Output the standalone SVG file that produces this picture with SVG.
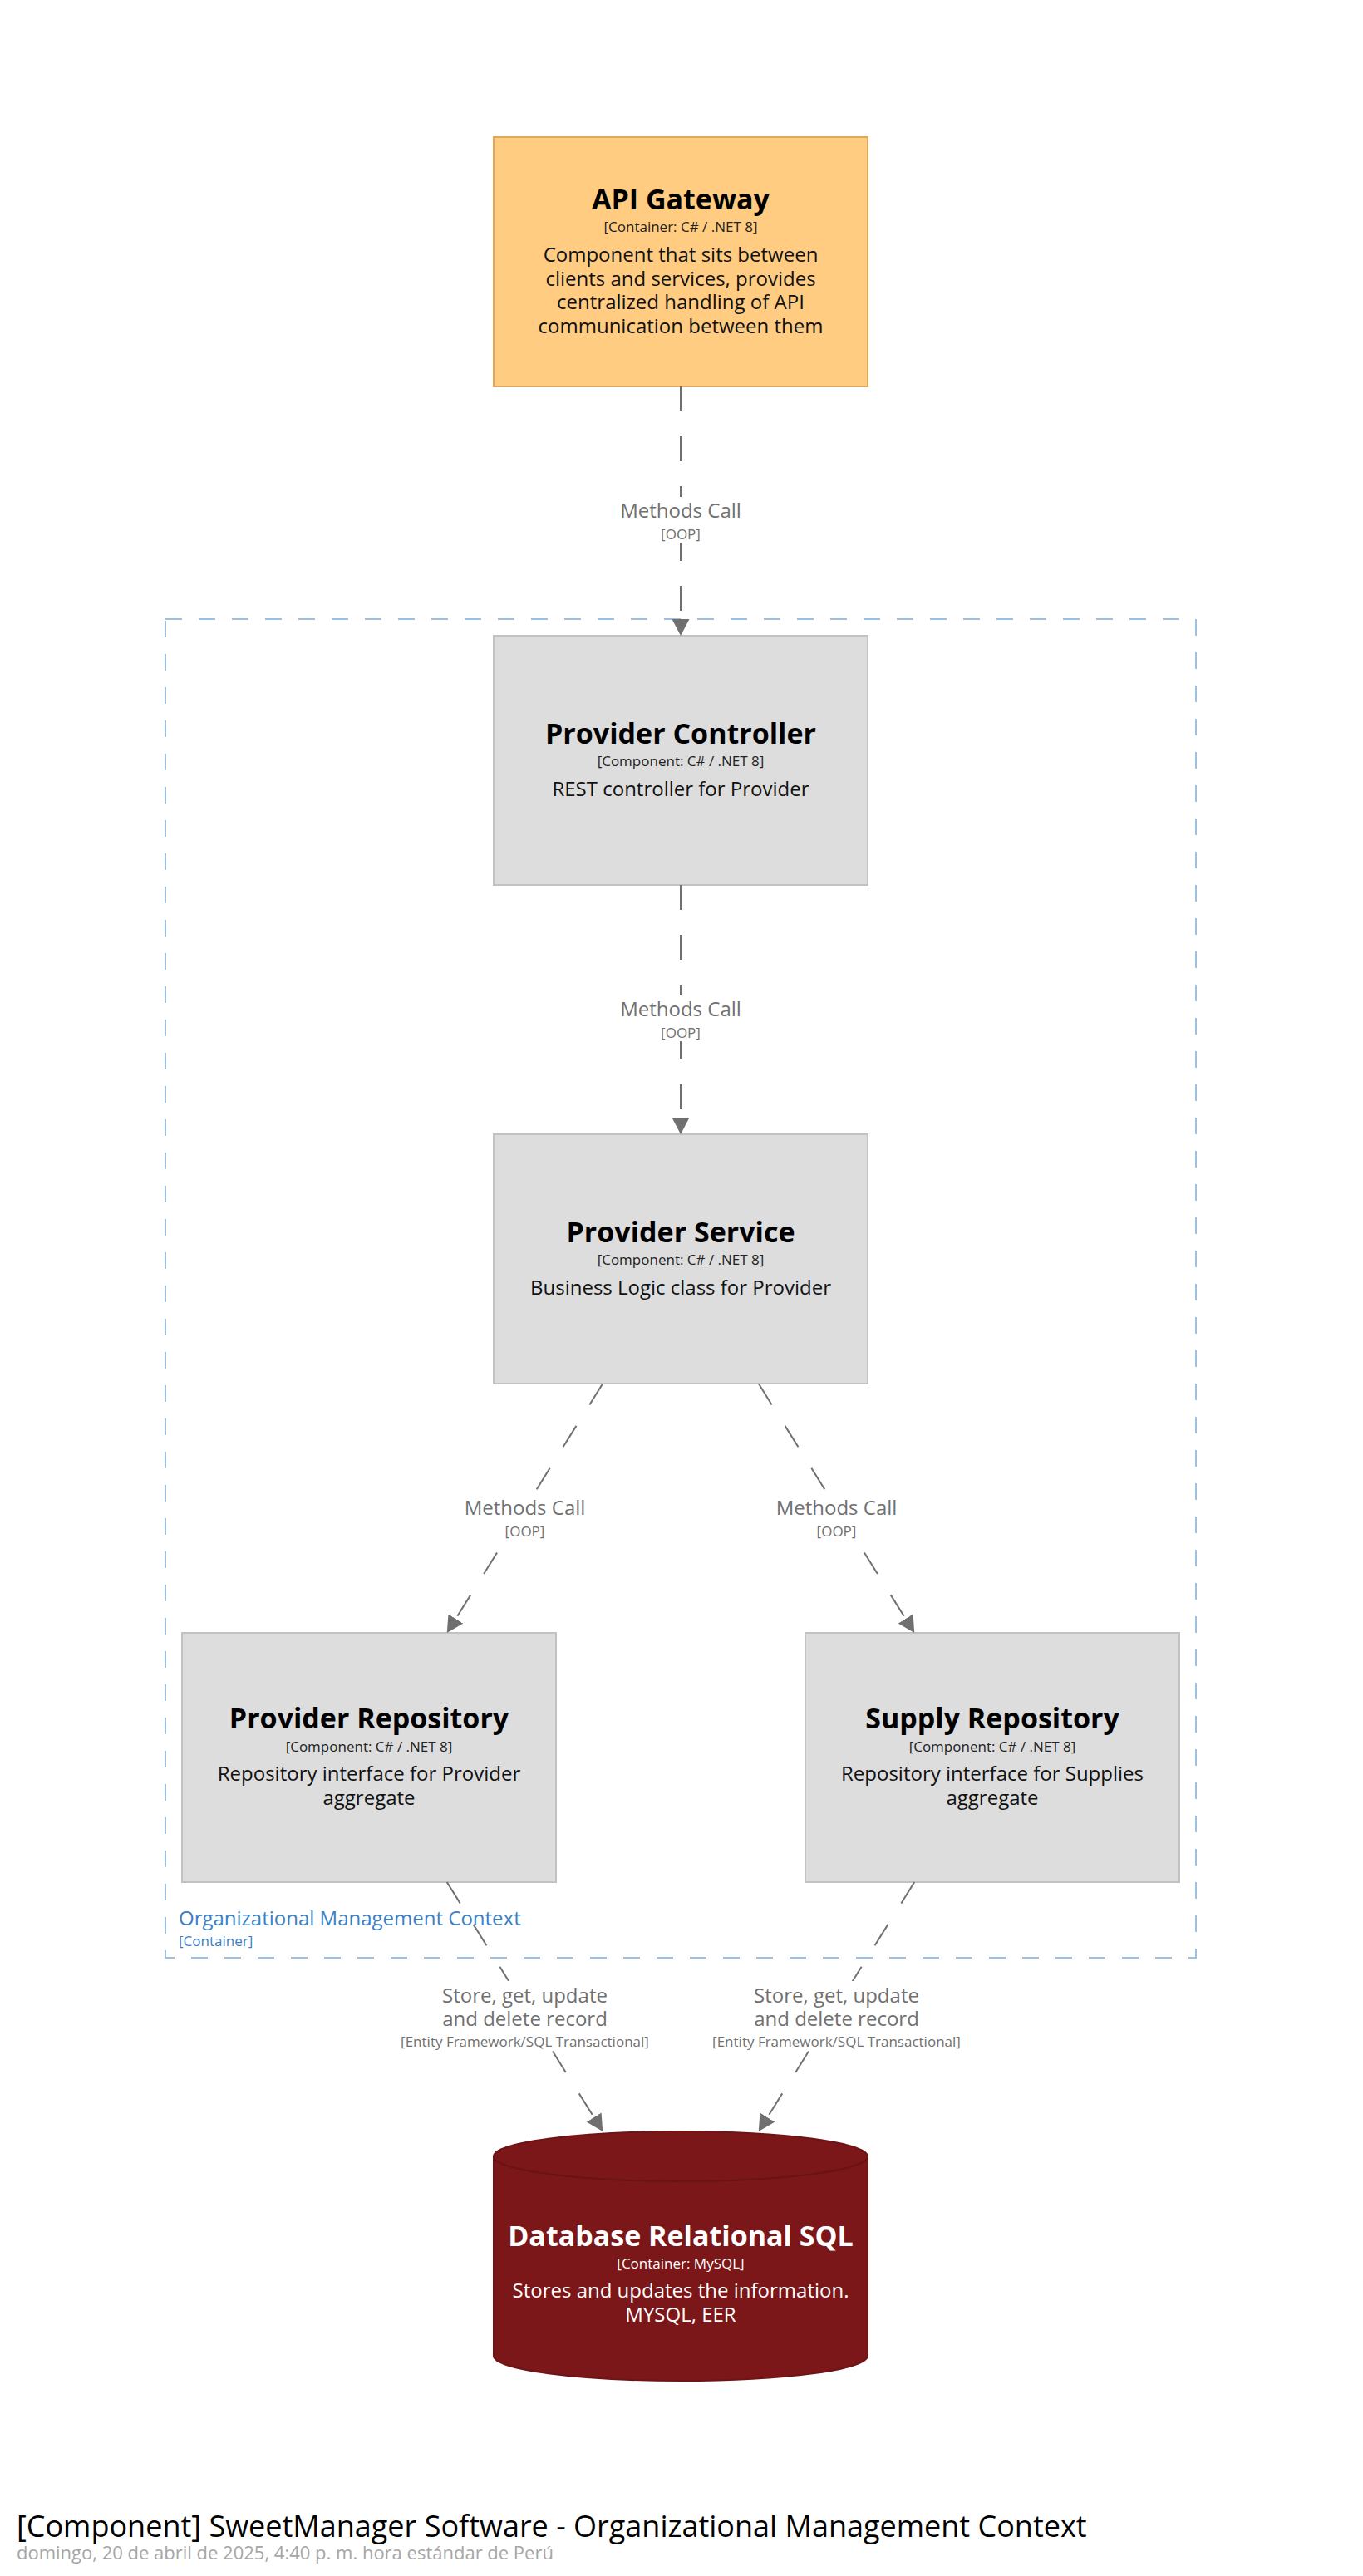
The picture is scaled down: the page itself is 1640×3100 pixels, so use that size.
<svg xmlns="http://www.w3.org/2000/svg" width="1640" height="3100" viewBox="0 0 1640 3100">
<style>
text{font-family:"Open Sans","Noto Sans","Liberation Sans",sans-serif;text-anchor:middle}
.name{font-size:34px;font-weight:700;fill:#000}
.meta{font-size:17px;fill:#222}
.desc{font-size:24px;fill:#111}
.comp{fill:#dddddd;stroke:#c2c2c2;stroke-width:2}
.gw{fill:#ffcc82;stroke:#dfa75c;stroke-width:2}
.db .name,.db .meta,.db .desc{fill:#fff}
.edge{fill:none;stroke:#707070;stroke-width:2;stroke-dasharray:30,30}
.lbg{fill:#fff}
.lt{font-size:24px;fill:#707070}
.lm{font-size:17px;fill:#707070}
</style>
<defs>
<marker id="arr" markerUnits="userSpaceOnUse" viewBox="0 0 20 21" refX="0" refY="10.5" markerWidth="20" markerHeight="21" orient="auto">
<path d="M0,0 L20,10.5 L0,21 Z" fill="#707070"/>
</marker>
</defs>
<rect width="1640" height="3100" fill="#fff"/>

<g id="boundary">
<rect x="199" y="745" width="1240" height="1611" fill="none" stroke="#9dbfe0" stroke-width="2" stroke-dasharray="20,20"/>
<text x="215" y="2317" style="text-anchor:start;font-size:24px;fill:#3c7fc4">Organizational Management Context</text>
<text x="215" y="2342" style="text-anchor:start;font-size:17px;fill:#3c7fc4">[Container]</text>
</g>

<g id="api-gateway">
<rect class="gw" x="594" y="165" width="450" height="300"/>
<text class="name" x="819" y="252">API Gateway</text>
<text class="meta" x="819" y="279">[Container: C# / .NET 8]</text>
<text class="desc" x="819" y="315">Component that sits between</text>
<text class="desc" x="819" y="343.5">clients and services, provides</text>
<text class="desc" x="819" y="372">centralized handling of API</text>
<text class="desc" x="819" y="400.5">communication between them</text>
</g>

<g id="provider-controller">
<rect class="comp" x="594" y="765" width="450" height="300"/>
<text class="name" x="819" y="895">Provider Controller</text>
<text class="meta" x="819" y="922">[Component: C# / .NET 8]</text>
<text class="desc" x="819" y="958">REST controller for Provider</text>
</g>

<g id="provider-service">
<rect class="comp" x="594" y="1365" width="450" height="300"/>
<text class="name" x="819" y="1495">Provider Service</text>
<text class="meta" x="819" y="1522">[Component: C# / .NET 8]</text>
<text class="desc" x="819" y="1558">Business Logic class for Provider</text>
</g>

<g id="provider-repository">
<rect class="comp" x="219" y="1965" width="450" height="300"/>
<text class="name" x="444" y="2080">Provider Repository</text>
<text class="meta" x="444" y="2108">[Component: C# / .NET 8]</text>
<text class="desc" x="444" y="2143">Repository interface for Provider</text>
<text class="desc" x="444" y="2172">aggregate</text>
</g>

<g id="supply-repository">
<rect class="comp" x="969" y="1965" width="450" height="300"/>
<text class="name" x="1194" y="2080">Supply Repository</text>
<text class="meta" x="1194" y="2108">[Component: C# / .NET 8]</text>
<text class="desc" x="1194" y="2143">Repository interface for Supplies</text>
<text class="desc" x="1194" y="2172">aggregate</text>
</g>

<g id="database" class="db">
<path d="M594,2595 A225,30 0 0,1 1044,2595 L1044,2835 A225,30 0 0,1 594,2835 Z" fill="#7b1719" stroke="#6e1416" stroke-width="2"/>
<path d="M594,2595 A225,30 0 0,0 1044,2595" fill="none" stroke="#6a1214" stroke-width="2"/>
<text class="name" x="819" y="2703">Database Relational SQL</text>
<text class="meta" x="819" y="2730">[Container: MySQL]</text>
<text class="desc" x="819" y="2765">Stores and updates the information.</text>
<text class="desc" x="819" y="2794">MYSQL, EER</text>
</g>

<g id="connectors">
<path class="edge" d="M819,465 L819,745" marker-end="url(#arr)"/>
<rect class="lbg" x="735" y="598" width="168" height="55"/>
<text class="lt" x="819" y="623">Methods Call</text>
<text class="lm" x="819" y="649">[OOP]</text>

<path class="edge" d="M819,1065 L819,1345" marker-end="url(#arr)"/>
<rect class="lbg" x="735" y="1198" width="168" height="55"/>
<text class="lt" x="819" y="1223">Methods Call</text>
<text class="lm" x="819" y="1249">[OOP]</text>

<path class="edge" d="M725.25,1665 L548.35,1948.04" marker-end="url(#arr)"/>
<rect class="lbg" x="547.5" y="1798" width="168" height="55"/>
<text class="lt" x="631.5" y="1823">Methods Call</text>
<text class="lm" x="631.5" y="1849">[OOP]</text>

<path class="edge" d="M912.75,1665 L1089.65,1948.04" marker-end="url(#arr)"/>
<rect class="lbg" x="922.5" y="1798" width="168" height="55"/>
<text class="lt" x="1006.5" y="1823">Methods Call</text>
<text class="lm" x="1006.5" y="1849">[OOP]</text>

<path class="edge" d="M537.75,2265 L714.65,2548.04" marker-end="url(#arr)"/>
<rect class="lbg" x="481.5" y="2384" width="300" height="84"/>
<text class="lt" x="631.5" y="2410">Store, get, update</text>
<text class="lt" x="631.5" y="2438">and delete record</text>
<text class="lm" x="631.5" y="2463">[Entity Framework/SQL Transactional]</text>

<path class="edge" d="M1100.25,2265 L923.35,2548.04" marker-end="url(#arr)"/>
<rect class="lbg" x="856.5" y="2384" width="300" height="84"/>
<text class="lt" x="1006.5" y="2410">Store, get, update</text>
<text class="lt" x="1006.5" y="2438">and delete record</text>
<text class="lm" x="1006.5" y="2463">[Entity Framework/SQL Transactional]</text>
</g>

<g id="title">
<text x="20" y="3053" style="text-anchor:start;font-size:36px;fill:#000">[Component] SweetManager Software - Organizational Management Context</text>
<text x="20" y="3080" style="text-anchor:start;font-size:22px;fill:#a6a6a6">domingo, 20 de abril de 2025, 4:40 p. m. hora estándar de Perú</text>
</g>
</svg>
